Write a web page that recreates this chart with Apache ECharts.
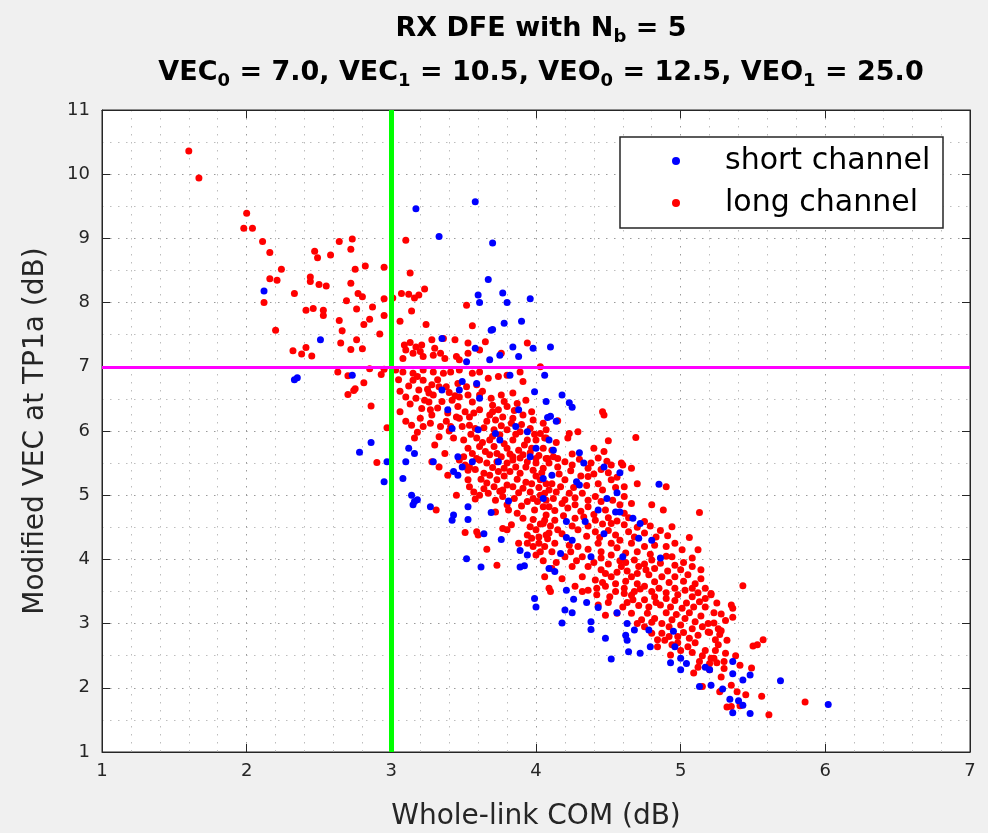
<!DOCTYPE html>
<html><head><meta charset="utf-8">
<script src="https://cdn.jsdelivr.net/npm/echarts@6/dist/echarts.min.js"></script>
<style>html,body{margin:0;padding:0;background:#f0f0f0}#c{width:988px;height:833px}</style>
</head><body><div id="c"></div>
<script>
const xTicks = [1, 2, 3, 4, 5, 6, 7];
const yTicks = [1, 2, 3, 4, 5, 6, 7, 8, 9, 10, 11];
const comLimit = 3;   // green vertical reference (dB)
const vecLimit = 7;   // magenta horizontal reference (dB)
const seriesNames = ['short channel', 'long channel'];

const shortChannel = [
[3.58,9.57],[3.17,9.46],[3.33,9.03],[3.70,8.93],[3.67,8.36],[2.12,8.18],[3.60,8.12],[3.61,8.00],[3.77,8.15],[3.80,8.00],[3.96,8.06],[3.70,7.58],[3.78,7.68],[3.90,7.71],[2.51,7.42],[3.35,7.44],
[2.73,6.87],[2.33,6.80],[2.35,6.83],[2.86,5.82],[2.78,5.67],[2.97,5.52],[2.95,5.21],
[3.58,7.29],[3.52,7.08],[3.68,7.11],[3.75,7.18],[3.84,7.31],[3.88,7.16],[3.69,7.57],[3.98,7.29],[3.49,6.77],[3.59,6.74],[3.35,6.64],[3.47,6.64],[3.61,6.51],[3.99,6.61],[3.82,6.87],[3.39,6.33],[3.88,6.33],[3.60,6.02],[3.42,6.04],[3.72,5.96],[3.86,6.07],[3.94,5.99],[3.75,5.86],[4.09,5.86],[4.00,5.73],[3.12,5.73],[3.16,5.65],[3.29,5.52],[3.46,5.60],[3.74,5.52],[3.96,5.60],
[3.08,5.26],[3.10,5.52],[3.49,5.44],[3.56,5.52],[3.43,5.37],[3.46,5.31],[3.14,5.00],[3.16,4.90],[3.15,4.85],[3.18,4.93],[3.27,4.82],[3.43,4.69],[3.42,4.61],[3.53,4.62],[3.53,4.82],[3.69,4.73],[3.81,4.91],[3.64,4.40],[3.76,4.31],[3.52,4.01],[3.62,3.88],[3.89,4.14],[3.94,4.07],[3.89,3.88],[3.92,3.90],[4.09,3.86],[4.05,5.26],[4.05,4.95],
[4.10,7.31],[4.06,6.87],[4.18,6.56],[4.23,6.44],[4.25,6.37],[4.07,6.46],[4.10,6.23],[4.08,6.21],[4.14,6.15],[4.12,5.70],[4.30,5.66],[4.33,5.50],
[4.47,5.44],[4.58,5.35],[4.28,5.21],[4.30,5.16],[4.11,5.31],[4.85,5.17],[4.56,5.04],[4.49,4.95],[4.43,4.77],[4.55,4.74],[4.58,4.74],[4.67,4.64],[4.72,4.56],[4.21,4.59],[4.34,4.59],[4.47,4.40],[4.21,4.34],[4.25,4.30],[4.71,4.33],[4.80,4.30],[4.17,4.09],[4.38,4.04],[4.60,4.04],[4.86,4.02],[4.13,3.81],[4.21,3.52],
[3.99,3.39],[4.00,3.26],
[4.26,3.38],[4.35,3.33],[4.20,3.21],[4.25,3.17],[4.43,3.25],[4.56,3.17],[4.18,3.01],[4.38,3.03],[4.38,2.91],[4.48,2.77],[4.63,3.00],[4.68,2.90],[4.62,2.82],[4.63,2.74],[4.78,2.90],[4.95,2.88],[4.64,2.56],[4.72,2.54],[4.79,2.64],[4.96,2.64],[4.52,2.45],[4.93,2.39],[5.00,2.46],[5.04,2.38],[5.00,2.28],[5.17,2.32],[5.20,2.28],[5.13,2.02],[5.21,2.04],
[5.36,2.41],[5.36,2.22],[5.43,2.12],[5.48,2.20],[5.69,2.11],[5.29,1.98],[5.34,1.82],[5.40,1.80],[5.43,1.73],[6.02,1.74],[5.36,1.61],[5.48,1.60]
];

const longChannel = [
[1.60,10.36],[1.67,9.94],[2.00,9.39],[1.98,9.16],[2.04,9.16],[2.11,8.95],[2.64,8.95],[2.73,8.99],[3.10,8.97],[2.16,8.78],[2.47,8.80],[2.49,8.70],[2.58,8.74],[2.72,8.83],[2.24,8.52],[2.75,8.52],[2.82,8.57],[2.95,8.55],[3.13,8.46],[2.16,8.37],[2.21,8.35],[2.44,8.40],[2.44,8.33],[2.50,8.28],[2.55,8.26],[2.72,8.30],[2.33,8.14],[2.77,8.14],[2.80,8.09],[3.07,8.14],[3.12,8.13],[3.16,8.07],[3.19,8.12],[3.23,8.21],[2.12,8.00],[2.69,8.03],[2.95,8.06],[3.01,8.07],[3.52,7.96],[2.41,7.88],[2.46,7.91],[2.53,7.88],[2.53,7.80],[2.76,7.90],[2.87,7.93],[3.14,7.87],[2.64,7.72],[2.66,7.56],[2.81,7.66],[2.85,7.74],[2.92,7.51],[2.95,7.80],[3.06,7.71],[3.24,7.66],[3.56,7.64],[2.76,7.42],[3.36,7.44],[3.44,7.42],
[2.20,7.57],[2.65,7.37],[2.72,7.27],[2.80,7.28],[2.32,7.25],[2.38,7.20],[2.41,7.30],[2.45,7.17],[2.63,6.92],[2.70,6.86],[2.85,6.97],[2.93,6.88],[2.95,6.96],[2.81,6.75],[2.75,6.66],[2.74,6.63],[2.70,6.57],[2.86,6.39],[2.97,6.05],[2.90,5.51],
[3.09,7.34],[3.13,7.38],[3.10,7.26],[3.15,7.21],[3.08,7.13],[3.17,7.31],[3.21,7.34],[3.20,7.24],[3.22,7.16],[3.28,7.42],[3.30,7.29],[3.29,7.18],[3.34,7.21],[3.37,7.13],[3.45,7.16],[3.53,7.37],[3.53,7.21],[3.47,7.11],[3.61,7.26],[3.65,7.39],[3.76,7.21],[3.94,7.37],
[3.03,6.95],[3.08,6.92],[3.15,6.90],[3.22,6.95],[3.29,6.92],[3.36,6.90],[3.41,6.92],[3.47,6.95],[3.56,6.90],[3.61,6.92],[3.67,6.82],[3.74,6.85],[3.80,6.87],[3.89,6.92],[4.03,7.00],[3.15,6.79],[3.22,6.79],[3.28,6.72],[3.19,6.64],[3.26,6.59],[3.33,6.69],[3.38,6.69],[3.46,6.74],[3.52,6.69],[3.59,6.72],[3.10,6.53],[3.17,6.51],[3.23,6.48],[3.29,6.56],[3.35,6.46],[3.42,6.48],[3.47,6.53],[3.53,6.56],[3.61,6.56],[3.69,6.51],[3.76,6.56],[3.84,6.59],[3.91,6.77],[3.46,6.38],[3.51,6.30],[3.27,6.33],[3.21,6.35],[3.28,6.25],[3.39,6.28],[3.47,6.20],[3.54,6.22],[3.61,6.33],[3.68,6.25],[3.74,6.33],[3.80,6.38],[3.87,6.43],[3.54,6.09],[3.66,6.15],[3.72,6.17],[3.77,6.22],[3.84,6.20],[3.91,6.25],[3.98,6.17],[4.05,6.12],[3.14,6.09],[3.22,6.07],[3.34,6.07],[3.41,6.07],[3.49,6.07],[3.58,6.04],[3.71,6.02],[3.80,6.02],[3.89,5.99],[3.96,6.04],[4.03,5.96],[3.16,5.89],[3.33,5.91],[3.43,5.89],[3.50,5.86],[3.59,5.89],[3.68,5.86],[3.75,5.94],[3.84,5.86],[3.94,5.86],[4.00,5.86],[4.07,5.89],[3.53,5.73],[3.61,5.76],[3.71,5.76],[3.80,5.73],[3.88,5.70],[3.97,5.73],[4.05,5.73],[3.37,5.65],[3.50,5.60],[3.59,5.57],[3.68,5.63],[3.76,5.60],[3.84,5.60],[3.91,5.63],[4.00,5.57],[4.07,5.57],
[4.46,6.30],[4.47,6.25],[4.07,6.02],[4.06,5.89],[4.14,5.82],[4.23,5.96],[4.29,5.99],[4.22,5.89],[4.50,5.85],[4.69,5.90],[4.11,5.70],[4.08,5.57],[4.15,5.57],[4.25,5.64],[4.40,5.73],[4.47,5.68],[4.43,5.58],[4.49,5.53],[4.59,5.50],[4.15,6.16],
[3.28,5.52],[3.33,5.44],[3.47,5.55],[3.51,5.47],[3.54,5.44],[3.53,5.39],[3.39,5.31],[3.53,5.24],[3.54,5.13],[3.57,5.05],[3.45,5.00],[3.31,4.77],[3.58,4.94],[3.72,4.74],[3.51,4.42],[3.59,4.43],[3.60,4.38],[3.77,4.48],[3.80,4.46],[3.83,4.54],[3.66,4.16],[3.73,3.91],[3.88,4.25],[3.94,4.25],[3.98,4.20],[4.00,4.07],[3.97,4.33],
[3.61,5.55],[3.66,5.50],[3.73,5.52],[3.80,5.50],[3.84,5.55],[3.94,5.52],[4.00,5.50],[3.64,5.34],[3.68,5.31],[3.74,5.37],[3.82,5.37],[3.89,5.34],[3.98,5.39],[4.05,5.42],[3.66,5.19],[3.71,5.13],[3.75,5.06],[3.61,5.00],[3.67,5.03],[3.80,5.16],[3.84,5.13],[3.91,5.11],[3.97,5.18],[4.03,5.24],[4.07,5.18],[3.77,4.98],[3.85,4.95],[3.94,4.90],[4.03,5.00],[4.07,4.92],[3.81,4.77],[3.87,4.72],[3.91,4.64],[3.99,4.77],[4.05,4.82],[4.07,4.69],[3.96,4.51],[4.00,4.46],[4.05,4.56],[4.07,4.38],[3.94,4.38],[4.02,4.35],
[4.09,5.50],[4.15,5.44],[4.25,5.47],[4.38,5.50],[4.52,5.47],[4.60,5.47],[4.66,5.42],[4.70,5.18],[4.90,5.13],[4.11,5.18],[4.20,5.24],[4.36,5.29],[4.43,5.18],[4.52,5.24],[4.61,5.13],[4.06,5.03],[4.14,5.05],[4.23,5.03],[4.32,5.03],[4.41,4.98],[4.61,4.98],[4.66,4.87],[4.09,4.82],[4.18,4.87],[4.27,4.85],[4.36,4.82],[4.48,4.77],[4.61,4.72],[4.80,4.85],[4.88,4.77],[5.13,4.73],[4.06,4.61],[4.13,4.61],[4.27,4.64],[4.41,4.61],[4.52,4.56],[4.61,4.54],[4.75,4.59],[4.94,4.51],[4.09,4.41],[4.15,4.46],[4.29,4.46],[4.41,4.43],[4.55,4.38],[4.64,4.43],[4.75,4.41],[4.91,4.37],[5.06,4.34],[4.06,4.20],[4.13,4.25],[4.29,4.20],[4.43,4.25],[4.52,4.25],[4.66,4.25],[4.75,4.20],[4.82,4.22],[5.01,4.15],[5.12,4.15],[4.20,4.04],[4.32,4.04],[4.45,4.02],[4.52,4.07],[4.68,3.99],[4.80,3.99],[4.94,4.04],[5.08,4.02],[4.11,3.86],[4.25,3.89],[4.36,3.89],[4.45,3.84],[4.59,3.89],[4.71,3.89],[4.82,3.86],[4.96,3.91],[5.08,3.89],[5.14,3.84],[4.06,3.73],[4.18,3.70],[4.32,3.73],[4.41,3.68],[4.52,3.73],[4.66,3.73],[4.78,3.76],[4.87,3.73],[4.96,3.73],[5.05,3.76],[5.14,3.70],[4.09,3.55],[4.27,3.58],[4.36,3.52],[4.48,3.58],[4.61,3.55],[4.75,3.58],[4.85,3.55],[4.96,3.55],[5.08,3.55],[5.17,3.55],
[4.10,3.50],[4.32,3.50],[4.42,3.45],[4.51,3.42],[4.61,3.47],[4.68,3.50],[4.75,3.37],[4.82,3.42],[4.90,3.39],[4.98,3.45],[5.08,3.42],[5.17,3.39],[5.21,3.45],[4.43,3.29],[4.48,3.13],[4.56,3.16],[4.60,3.26],[4.67,3.37],[4.78,3.26],[4.86,3.29],[4.93,3.26],[5.01,3.24],[5.09,3.26],[5.17,3.26],[4.73,3.06],[4.82,3.08],[4.87,3.00],[4.94,3.06],[5.03,3.08],[5.10,3.03],[5.19,3.00],[4.75,2.95],[4.80,2.85],[4.87,2.85],[4.89,2.74],[4.98,2.80],[5.06,2.77],[5.19,2.87],[4.84,2.64],[4.94,2.67],[5.05,2.64],[4.93,2.51],[5.13,2.41],[5.21,2.46],[5.09,2.23],[5.15,2.02],
[5.21,3.47],[5.25,3.32],[5.35,3.29],[5.36,3.24],[5.23,3.17],[5.36,3.10],[5.23,3.01],[5.20,2.86],[5.28,2.89],[5.27,2.83],[5.32,2.74],[5.26,2.67],[5.50,2.65],[5.53,2.67],[5.57,2.75],[5.23,2.46],[5.31,2.54],[5.38,2.50],[5.25,2.39],[5.30,2.41],[5.41,2.35],[5.49,2.31],[5.20,2.28],[5.28,2.17],[5.35,2.04],[5.39,1.94],[5.27,1.94],[5.45,1.89],[5.56,1.87],[5.86,1.78],[5.32,1.70],[5.41,1.72],[5.35,1.71],[5.61,1.58],[5.43,3.59],
[3.05,6.80],[3.12,6.70],[3.18,6.85],[3.25,6.65],[3.32,6.80],[3.40,6.60],[3.06,6.62],[3.13,6.42],[3.20,6.20],[3.26,6.45],[3.32,6.36],[3.38,6.15],[3.44,6.55],[3.06,6.30],[3.10,6.15],[3.18,5.98],[3.27,6.12],[3.45,6.22],[3.40,6.00],[3.30,5.78],
[3.56,6.45],[3.63,6.62],[3.70,6.40],[3.78,6.46],[3.85,6.32],[3.93,6.48],[3.57,6.28],[3.64,6.05],[3.70,6.30],[3.76,6.08],[3.83,6.12],[3.90,6.10],[3.97,6.30],[3.55,5.95],[3.63,5.82],[3.70,5.92],[3.78,5.80],[3.86,5.95],[3.92,5.78],[3.99,5.95],[3.56,5.65],[3.65,5.68],[3.73,5.65],[3.82,5.64],[3.89,5.58],[3.96,5.66],[3.58,5.40],[3.70,5.43],[3.78,5.42],[3.86,5.44],[3.93,5.44],[3.62,5.25],[3.73,5.24],[3.78,5.30],[3.87,5.25],[3.93,5.20],[4.00,5.30],[3.64,5.10],[3.77,5.08],[3.88,5.04],[3.96,5.05],[3.72,4.92],[3.80,4.85],[3.90,4.83],[3.98,4.95],
[4.02,5.62],[4.12,5.60],[4.20,5.52],[4.30,5.56],[4.36,5.42],[4.45,5.40],[4.04,5.35],[4.16,5.33],[4.24,5.38],[4.31,5.30],[4.40,5.33],[4.50,5.35],[4.56,5.28],[4.02,5.12],[4.09,5.08],[4.17,5.13],[4.26,5.12],[4.35,5.15],[4.46,5.08],[4.55,5.12],[4.12,4.95],[4.20,4.93],[4.27,4.96],[4.36,4.92],[4.45,4.90],[4.53,4.92],[4.58,4.85],[4.01,4.90],[4.13,4.76],[4.22,4.80],[4.31,4.75],[4.40,4.70],[4.50,4.65],[4.56,4.60],[3.98,4.62],[4.03,4.55],[4.10,4.52],[4.19,4.68],[4.25,4.52],[4.33,4.66],[4.36,4.52],[4.46,4.55],[4.02,4.25],[4.08,4.32],[4.18,4.40],[4.23,4.22],[4.35,4.36],[4.44,4.34],[4.50,4.45],[4.58,4.30],[4.03,4.12],[4.11,4.12],[4.24,4.12],[4.36,4.16],[4.45,4.12],[4.56,4.18],[4.62,4.10],[4.05,3.98],[4.14,3.95],[4.28,3.98],[4.40,3.95],[4.50,3.93],[4.58,3.98],
[4.64,4.65],[4.70,4.50],[4.79,4.52],[4.86,4.45],[4.68,4.35],[4.83,4.35],[4.70,4.12],[4.79,4.08],[4.90,4.20],[4.96,4.25],[4.62,3.95],[4.75,3.93],[4.86,3.94],[4.90,4.05],[5.02,3.95],[4.48,3.78],[4.56,3.80],[4.63,3.82],[4.70,3.78],[4.76,3.84],[4.91,3.82],[5.00,3.84],[4.46,3.64],[4.55,3.62],[4.62,3.66],[4.70,3.62],[4.82,3.65],[4.92,3.64],[5.02,3.66],[5.10,3.62],[4.42,3.55],[4.55,3.50],[4.66,3.44],[4.72,3.54],[4.80,3.50],[4.90,3.48],[5.03,3.52],[5.12,3.48],[4.50,3.33],[4.63,3.33],[4.71,3.28],[4.83,3.33],[4.96,3.36],[5.04,3.32],[5.13,3.34],[4.66,3.16],[4.77,3.16],[4.90,3.17],[4.97,3.14],[5.06,3.17],[5.14,3.12],[4.70,3.00],[4.80,3.02],[4.92,2.95],[5.00,2.98],[5.08,2.92],[5.15,2.95],
[4.84,2.75],[4.92,2.80],[5.02,2.86],[5.12,2.82],[5.10,2.70],[4.98,2.70],[5.17,2.58],[5.08,2.55],[5.00,2.58],[5.15,2.50],[5.24,2.58],[5.20,2.38],[5.12,2.32],[5.30,2.30],[5.26,2.92],[5.31,3.05],[5.28,3.15],[5.24,2.75]
];

const FONT = 'DejaVu Sans';
const INK = '#262626';
const dots = [1.5, 6.5];

const chart = echarts.init(document.getElementById('c'));
function axisCommon(ticks, minorSplit) {
  return {
    type: 'value', min: ticks[0], max: ticks[ticks.length - 1], interval: ticks[1] - ticks[0],
    axisLine: { show: true, onZero: false, lineStyle: { color: INK, width: 1 } },
    axisTick: { show: true, inside: true, length: 8, lineStyle: { color: INK } },
    minorTick: { show: false, splitNumber: minorSplit },
    minorSplitLine: { show: true, lineStyle: { color: '#bdbdbd', width: 1, type: dots } },
    splitLine: { show: true, lineStyle: { color: '#9a9a9a', width: 1, type: dots } }
  };
}
const titleRich = {
  b: { fontFamily: FONT, fontSize: 27, fontWeight: 'bold', color: '#000' },
  s: { fontFamily: FONT, fontSize: 18, fontWeight: 'bold', color: '#000', padding: [16, 0, 0, 0] }
};
const option = {
  animation: false,
  backgroundColor: '#f0f0f0',
  title: [
    { text: '{b|RX DFE with N}{s|b}{b| = 5}', left: 536, top: 7, textAlign: 'center', textStyle: { rich: titleRich } },
    { text: '{b|VEC}{s|0}{b| = 7.0, VEC}{s|1}{b| = 10.5, VEO}{s|0}{b| = 12.5, VEO}{s|1}{b| = 25.0}', left: 536, top: 51, textAlign: 'center', textStyle: { rich: titleRich } }
  ],
  grid: { left: 102, right: 18, top: 110, bottom: 81, outerBoundsMode: 'none', containLabel: false,
          show: true, backgroundColor: '#fff', borderColor: INK, borderWidth: 1 },
  xAxis: [
    Object.assign(axisCommon(xTicks, 5), {
      position: 'bottom',
      axisLabel: { fontFamily: FONT, fontSize: 18, color: INK, margin: 10 },
      name: 'Whole-link COM (dB)', nameLocation: 'middle', nameGap: 51,
      nameTextStyle: { fontFamily: FONT, fontSize: 28, color: INK }
    }),
    Object.assign(axisCommon(xTicks, 5), { position: 'top', axisLabel: { show: false }, splitLine: { show: false }, minorSplitLine: { show: false } })
  ],
  yAxis: [
    Object.assign(axisCommon(yTicks, 2), {
      position: 'left',
      axisLabel: { fontFamily: FONT, fontSize: 18, color: INK, margin: 12 },
      name: 'Modified VEC at TP1a (dB)', nameLocation: 'middle', nameGap: 52, nameRotate: 90,
      nameTextStyle: { fontFamily: FONT, fontSize: 28, color: INK }
    }),
    Object.assign(axisCommon(yTicks, 2), { position: 'right', axisLabel: { show: false }, splitLine: { show: false }, minorSplitLine: { show: false } })
  ],
  legend: {
    data: seriesNames, orient: 'vertical', left: 672, top: 146, padding: 0, itemGap: 12,
    itemWidth: 8, itemHeight: 8, icon: 'circle', z: 10,
    textStyle: { fontFamily: FONT, fontSize: 30, color: '#000', padding: [0, 0, 0, 40] }
  },
  graphic: [{ type: 'rect', shape: { x: 620, y: 137, width: 323, height: 91 }, style: { fill: '#fff', stroke: INK, lineWidth: 1.5 }, z: 9 }],
  series: [
    { name: seriesNames[1], type: 'scatter', data: longChannel, symbolSize: 7, itemStyle: { color: '#ff0000', opacity: 1 }, z: 2 },
    { name: seriesNames[0], type: 'scatter', data: shortChannel, symbolSize: 7, itemStyle: { color: '#0000ff', opacity: 1 }, z: 3 },
    { type: 'line', data: [], z: 5, silent: true,
      markLine: { silent: true, symbol: ['none', 'none'], label: { show: false },
        data: [
          { xAxis: comLimit, lineStyle: { color: '#00ff00', width: 5, type: 'solid' } },
          { yAxis: vecLimit, lineStyle: { color: '#ff00ff', width: 3, type: 'solid' } }
        ] } }
  ]
};
chart.setOption(option);
</script></body></html>
